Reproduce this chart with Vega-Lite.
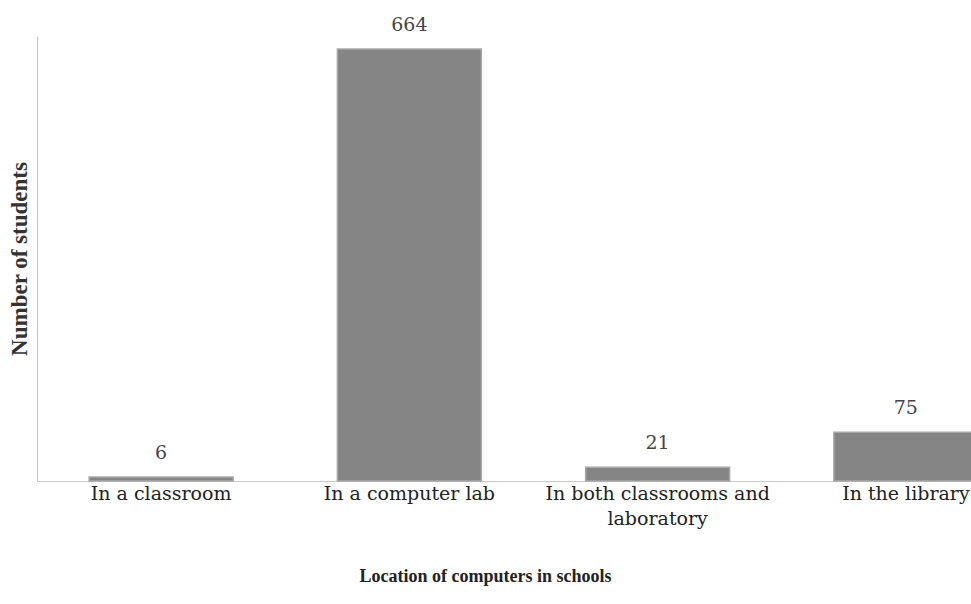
{
  "$schema": "https://vega.github.io/schema/vega-lite/v6.json",
  "autosize": "none",
  "width": 993,
  "height": 445,
  "padding": {"left": 37, "top": 36, "right": 0, "bottom": 123},
  "background": "white",
  "config": {"view": {"stroke": null}},
  "data": {
    "values": [
      {"location": "In a classroom", "students": 6},
      {"location": "In a computer lab", "students": 664},
      {"location": "In both classrooms and laboratory", "students": 21},
      {"location": "In the library", "students": 75}
    ]
  },
  "encoding": {
    "x": {
      "field": "location",
      "type": "nominal",
      "sort": null,
      "scale": {"paddingInner": 0.42, "paddingOuter": 0.21},
      "axis": {
        "title": "Location of computers in schools",
        "titleFont": "Liberation Serif",
        "titleFontSize": 18,
        "titleFontWeight": "bold",
        "titleColor": "#222",
        "titleX": 448,
        "titleAnchor": "middle",
        "titlePadding": 39,
        "labelAngle": 0,
        "labelFont": "DejaVu Serif",
        "labelFontSize": 19,
        "labelColor": "#222",
        "labelPadding": 3,
        "labelLineHeight": 25,
        "labelLimit": 400,
        "labelExpr": "datum.value == 'In both classrooms and laboratory' ? ['In both classrooms and', 'laboratory'] : datum.value",
        "ticks": false,
        "domainColor": "#c8c8c8",
        "domainWidth": 1.2
      }
    },
    "y": {
      "field": "students",
      "type": "quantitative",
      "scale": {"domain": [0, 684], "nice": false},
      "axis": {
        "title": "Number of students",
        "titleFont": "Liberation Serif",
        "titleFontSize": 23,
        "titleFontWeight": "bold",
        "titleColor": "#333",
        "titlePadding": 6,
        "labels": false,
        "ticks": false,
        "grid": false,
        "domainColor": "#c8c8c8",
        "domainWidth": 1.2
      }
    }
  },
  "layer": [
    {
      "mark": {"type": "bar", "color": "#858585", "stroke": "#a8a8a8", "strokeWidth": 1.5}
    },
    {
      "mark": {"type": "text", "baseline": "bottom", "dy": -14, "font": "DejaVu Serif", "fontSize": 19, "color": "#444"},
      "encoding": {"text": {"field": "students", "type": "quantitative"}}
    }
  ]
}
